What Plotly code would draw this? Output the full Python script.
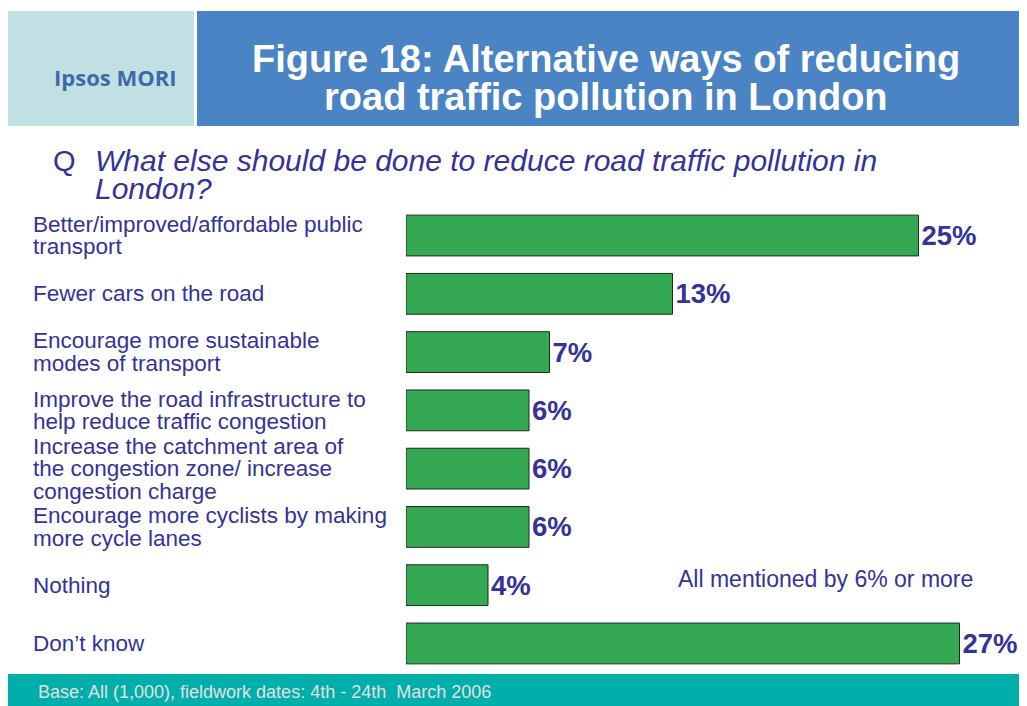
import plotly.graph_objects as go

# data
categories = [
    "Better/improved/affordable public\ntransport",
    "Fewer cars on the road",
    "Encourage more sustainable\nmodes of transport",
    "Improve the road infrastructure to\nhelp reduce traffic congestion",
    "Increase the catchment area of\nthe congestion zone/ increase\ncongestion charge",
    "Encourage more cyclists by making\nmore cycle lanes",
    "Nothing",
    "Don\u2019t know",
]
values = [25, 13, 7, 6, 6, 6, 4, 27]

title_lines = ["Figure 18: Alternative ways of reducing", "road traffic pollution in London"]
question_lines = ["What else should be done to reduce road traffic pollution in", "London?"]
note = "All mentioned by 6% or more"
footer = "Base: All (1,000), fieldwork dates: 4th - 24th  March 2006"
logo = "Ipsos MORI"

W, H = 1027, 706
OFF = 8  # page body margin shifts the figure by 8px
NAVY = "#333399"
FONT = "Liberation Sans, Arial, sans-serif"


def px(x):
    return (x - OFF) / W


def py(y):
    return 1 - (y - OFF) / H


fig = go.Figure()
fig.add_trace(go.Bar(
    x=values,
    y=categories,
    orientation="h",
    width=0.7,
    marker=dict(color="#34a853", line=dict(color="#1f2a1f", width=1)),
    text=[f"{v}%" for v in values],
    textposition="outside",
    constraintext="none",
    cliponaxis=False,
    textfont=dict(family=FONT, size=27.5, color=NAVY, weight="bold"),
    hoverinfo="skip",
))

shapes = [
    # logo box, title box, footer band
    dict(type="rect", xref="paper", yref="paper", x0=px(8), x1=px(194), y0=py(126), y1=py(11),
         fillcolor="#c0e0e3", line_width=0, layer="below"),
    dict(type="rect", xref="paper", yref="paper", x0=px(197), x1=px(1020), y0=py(126), y1=py(11),
         fillcolor="#4a84c4", line_width=0, layer="below"),
    dict(type="rect", xref="paper", yref="paper", x0=px(8), x1=px(1020), y0=py(706), y1=py(674),
         fillcolor="#00aeaa", line_width=0, layer="below"),
]

ann = []
ann.append(dict(x=px(52), y=py(77), xref="paper", yref="paper", text=logo, showarrow=False,
                xanchor="left", yanchor="middle",
                font=dict(family="Open Sans, " + FONT, size=22, color="#3d6aaa", weight="bold")))
for i, t in enumerate(title_lines):
    ann.append(dict(x=px(606), y=py(59 + 38 * i), xref="paper", yref="paper", text=t, showarrow=False,
                    xanchor="center", yanchor="middle",
                    font=dict(family=FONT, size=38, color="white", weight="bold")))
ann.append(dict(x=px(51), y=py(161), xref="paper", yref="paper", text="Q", showarrow=False,
                xanchor="left", yanchor="middle", font=dict(family=FONT, size=29, color=NAVY)))
for i, t in enumerate(question_lines):
    ann.append(dict(x=px(94), y=py(160 + 28 * i), xref="paper", yref="paper", text=t, showarrow=False,
                    xanchor="left", yanchor="middle", borderpad=0,
                    font=dict(family=FONT, size=30, color=NAVY, style="italic")))

# category labels, one annotation per line for tight spacing
lh = 22.5
for c in categories:
    lines = c.split("\n")
    n = len(lines)
    for i, t in enumerate(lines):
        ann.append(dict(x=px(32), y=c, xref="paper", yref="y", text=t, showarrow=False,
                        xanchor="left", yanchor="middle", yshift=((n - 1) / 2 - i) * lh, borderpad=0,
                        font=dict(family=FONT, size=22.5, color=NAVY)))

ann.append(dict(x=px(676), y=py(579), xref="paper", yref="paper", text=note, showarrow=False,
                xanchor="left", yanchor="middle", font=dict(family=FONT, size=23, color=NAVY)))
ann.append(dict(x=px(36), y=py(692), xref="paper", yref="paper", text=footer, showarrow=False,
                xanchor="left", yanchor="middle", font=dict(family=FONT, size=18, color="#e0e0e0")))

fig.update_layout(
    width=W, height=H,
    margin=dict(l=0, r=0, t=0, b=0, autoexpand=False),
    paper_bgcolor="white", plot_bgcolor="white",
    showlegend=False,
    shapes=shapes,
    annotations=ann,
    xaxis=dict(domain=[px(406), px(1021)], range=[0, 30], visible=False),
    yaxis=dict(domain=[py(672.6), py(206.4)], type="category", categoryorder="array",
               categoryarray=categories, range=[7.5, -0.5], visible=False),
)

fig.write_html("out.html")
